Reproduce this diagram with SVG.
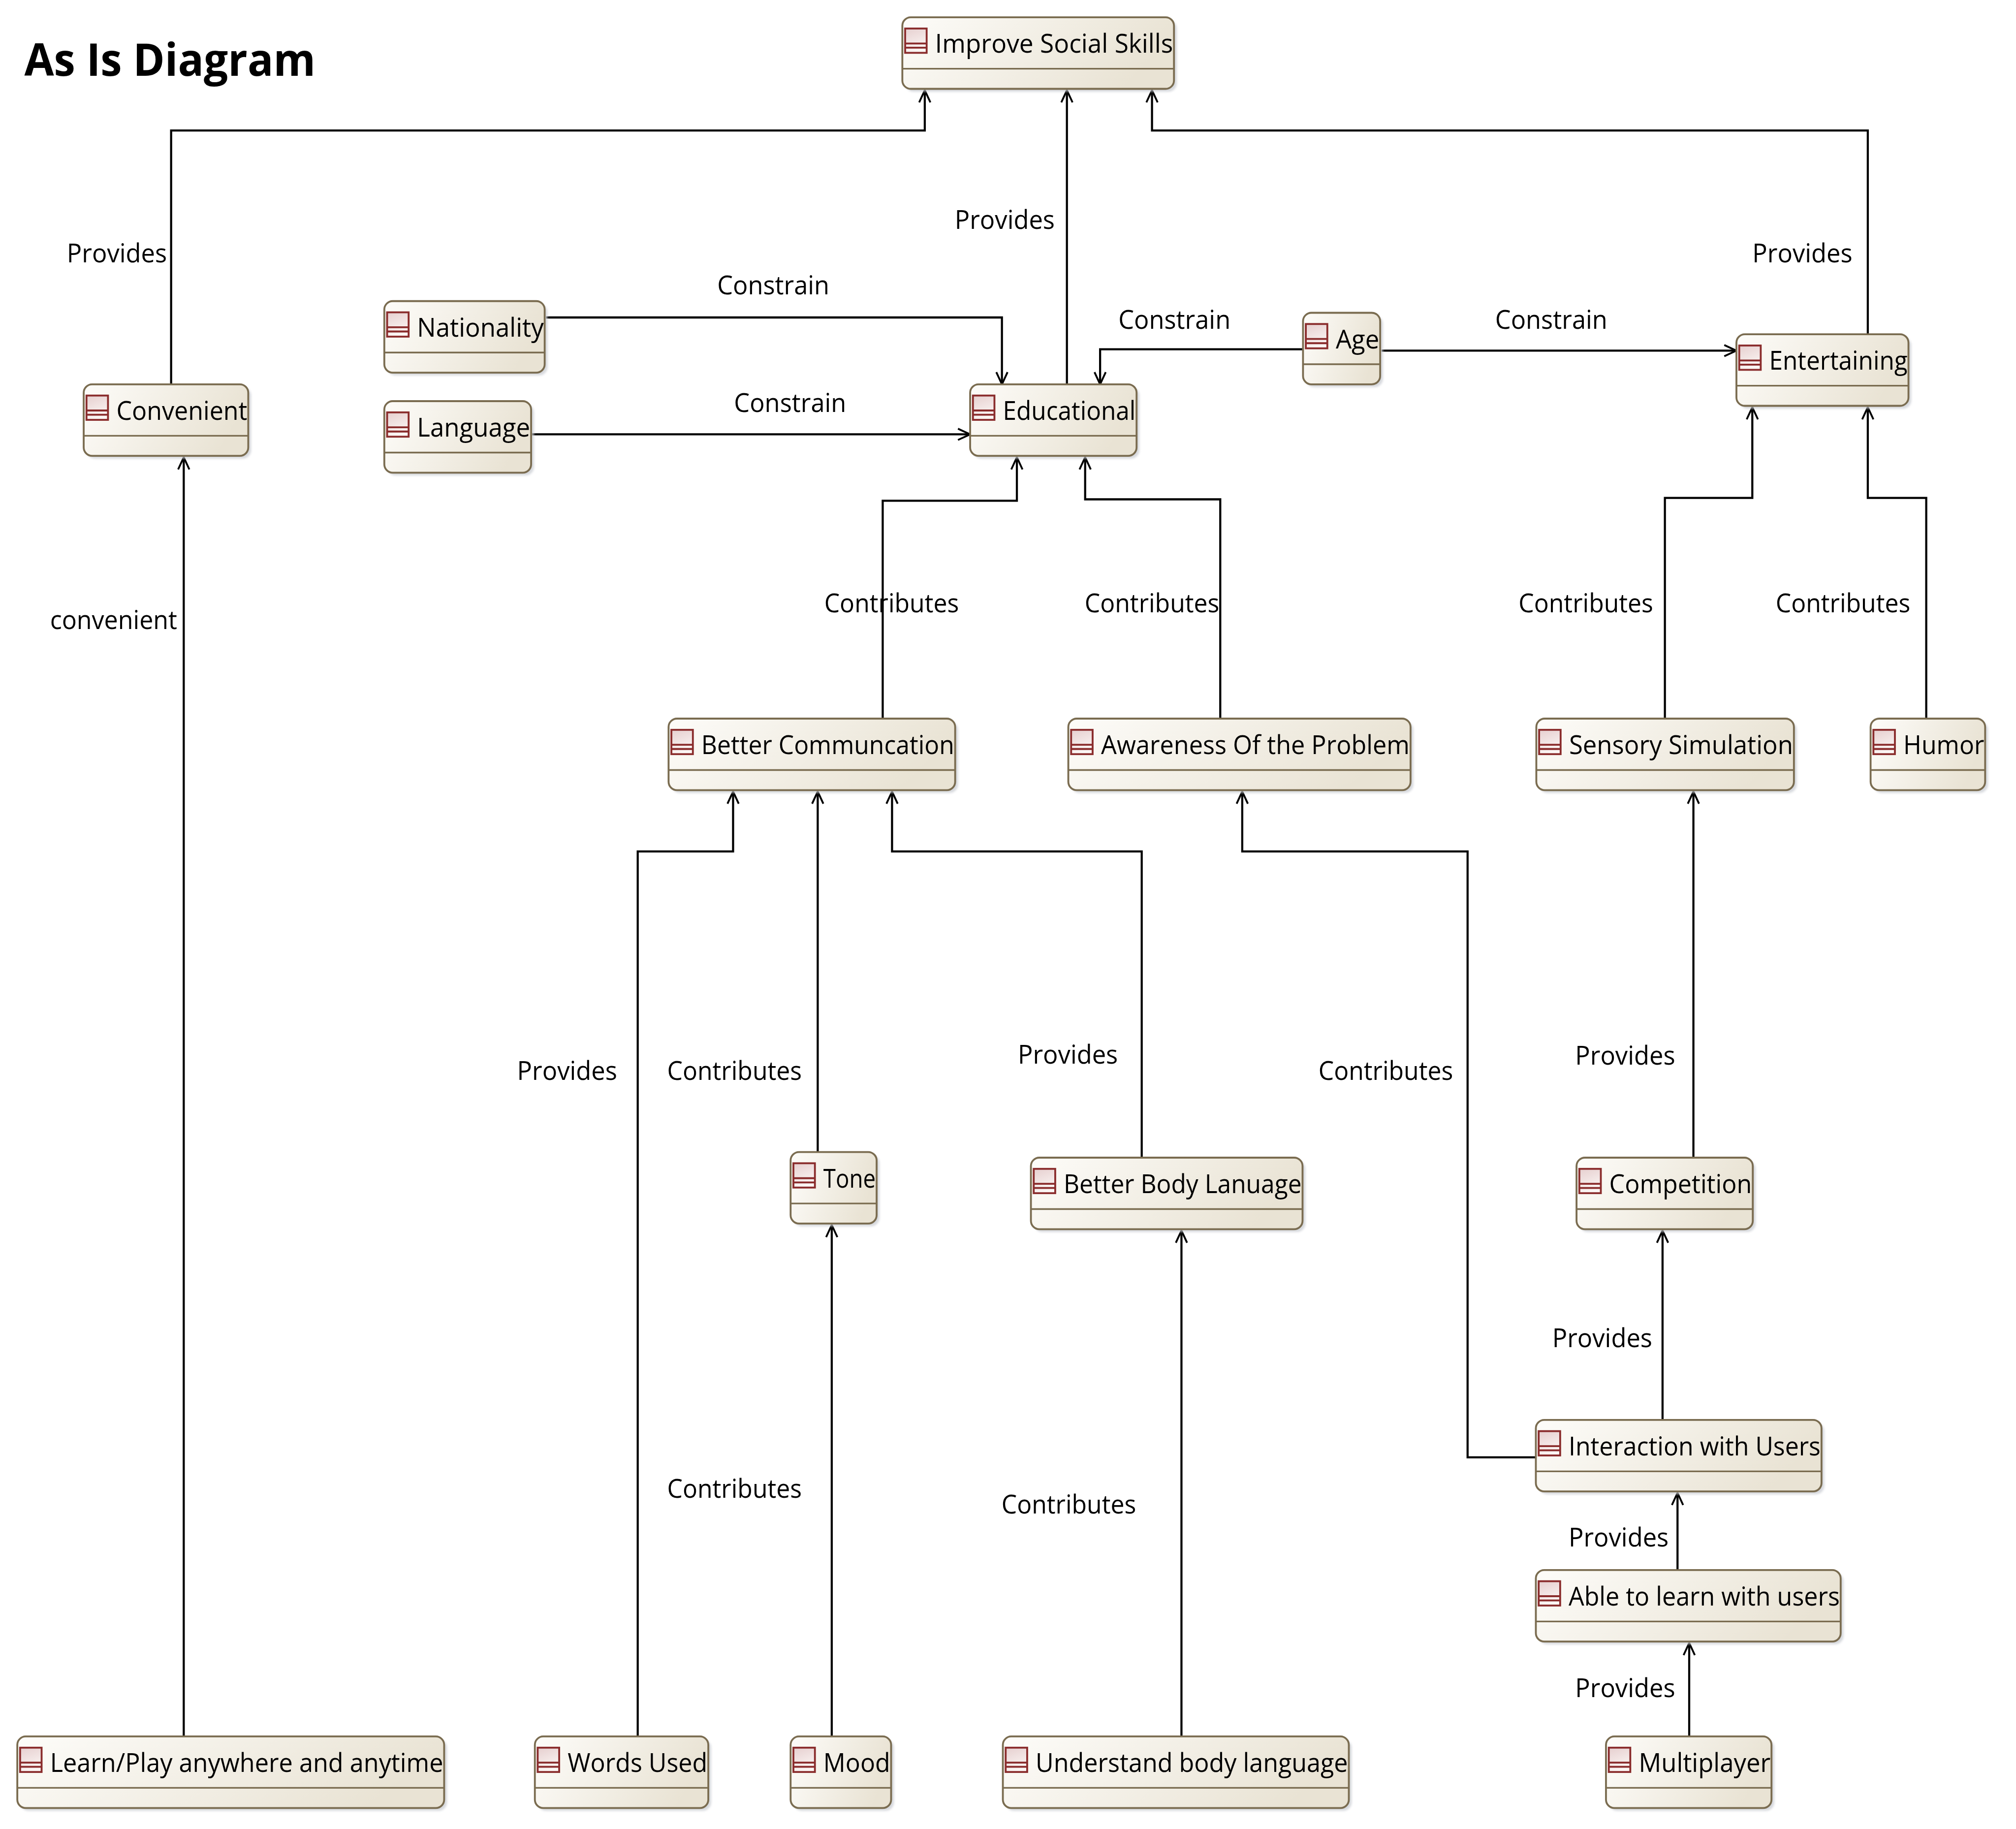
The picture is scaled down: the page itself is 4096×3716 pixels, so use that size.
<svg xmlns="http://www.w3.org/2000/svg" width="4096" height="3716" viewBox="0 0 4096 3716">
<style>
.n{fill:url(#g);stroke:#7a6c50;stroke-width:4}
.s{fill:#c9ccd2;opacity:.75;filter:url(#b)}
.d{stroke:#7a6c50;stroke-width:3.5;fill:none}
.i{fill:url(#p);stroke:#8a2c2c;stroke-width:4}
.il{stroke:#8a2c2c;stroke-width:4;fill:none}
.t{font-family:"Open Sans","Noto Sans",sans-serif;font-size:55px;fill:#000}
.c{fill:none;stroke:#000;stroke-width:4.5;marker-end:url(#a)}
.h{font-family:"Open Sans","Noto Sans",sans-serif;font-size:96px;font-weight:700;fill:#000}
</style>
<defs>
<linearGradient id="g" x1="0" y1="0" x2="1" y2="0.25"><stop offset="0" stop-color="#fdfcf9"/><stop offset="1" stop-color="#e9e3d4"/></linearGradient>
<linearGradient id="p" x1="0" y1="0" x2="0.3" y2="1"><stop offset="0" stop-color="#e6cfcf"/><stop offset="1" stop-color="#fbf6f4"/></linearGradient>
<filter id="b" x="-5%" y="-10%" width="110%" height="120%"><feGaussianBlur stdDeviation="2"/></filter>
<marker id="a" markerUnits="userSpaceOnUse" markerWidth="30" markerHeight="34" viewBox="0 0 30 34" refX="27" refY="17" orient="auto"><path d="M1 5 L27 17 L1 29" fill="none" stroke="#000" stroke-width="4"/></marker>
<g id="ic"><rect class="i" x="0" y="0" width="46" height="52"/><path class="il" d="M0 32H46M0 41H46"/></g>
</defs>
<rect width="4096" height="3716" fill="#fff"/>
<g transform="scale(0.94991)">
<text class="h" x="52" y="162" textLength="623" lengthAdjust="spacingAndGlyphs">As Is Diagram</text>
<g id="connectors">
<path class="c" d="M366 822V279H1978V193"/>
<path class="c" d="M2282 822V193"/>
<path class="c" d="M3995 715V279H2464V193"/>
<path class="c" d="M1168 679H2143V822"/>
<path class="c" d="M1138 929H2075"/>
<path class="c" d="M2787 747H2353V822"/>
<path class="c" d="M2955 750H3714"/>
<path class="c" d="M393 3714V978"/>
<path class="c" d="M1888 1537V1071H2175V978"/>
<path class="c" d="M2610 1537V1068H2321V978"/>
<path class="c" d="M3561 1537V1065H3748V871"/>
<path class="c" d="M4120 1537V1065H3995V871"/>
<path class="c" d="M1364 3714V1821H1568V1693"/>
<path class="c" d="M1749 2464V1693"/>
<path class="c" d="M2442 2476V1821H1908V1693"/>
<path class="c" d="M3285 3117H3139V1821H2657V1693"/>
<path class="c" d="M3622 2476V1693"/>
<path class="c" d="M3556 3037V2632"/>
<path class="c" d="M3588 3358V3193"/>
<path class="c" d="M3613 3714V3514"/>
<path class="c" d="M1779 3714V2620"/>
<path class="c" d="M2527 3714V2632"/>
</g>
<g id="labels">
<text class="t" x="143" y="561" textLength="214" lengthAdjust="spacingAndGlyphs">Provides</text>
<text class="t" x="2042" y="490" textLength="214" lengthAdjust="spacingAndGlyphs">Provides</text>
<text class="t" x="3748" y="561" textLength="214" lengthAdjust="spacingAndGlyphs">Provides</text>
<text class="t" x="1534" y="630" textLength="240" lengthAdjust="spacingAndGlyphs">Constrain</text>
<text class="t" x="1570" y="881" textLength="240" lengthAdjust="spacingAndGlyphs">Constrain</text>
<text class="t" x="2392" y="703" textLength="240" lengthAdjust="spacingAndGlyphs">Constrain</text>
<text class="t" x="3198" y="703" textLength="240" lengthAdjust="spacingAndGlyphs">Constrain</text>
<text class="t" x="107" y="1345" textLength="272" lengthAdjust="spacingAndGlyphs">convenient</text>
<text class="t" x="1763" y="1310" textLength="288" lengthAdjust="spacingAndGlyphs">Contributes</text>
<text class="t" x="2320" y="1310" textLength="288" lengthAdjust="spacingAndGlyphs">Contributes</text>
<text class="t" x="3248" y="1310" textLength="288" lengthAdjust="spacingAndGlyphs">Contributes</text>
<text class="t" x="3798" y="1310" textLength="288" lengthAdjust="spacingAndGlyphs">Contributes</text>
<text class="t" x="1106" y="2310" textLength="214" lengthAdjust="spacingAndGlyphs">Provides</text>
<text class="t" x="1427" y="2310" textLength="288" lengthAdjust="spacingAndGlyphs">Contributes</text>
<text class="t" x="2177" y="2275" textLength="214" lengthAdjust="spacingAndGlyphs">Provides</text>
<text class="t" x="2820" y="2310" textLength="288" lengthAdjust="spacingAndGlyphs">Contributes</text>
<text class="t" x="3369" y="2277" textLength="214" lengthAdjust="spacingAndGlyphs">Provides</text>
<text class="t" x="3320" y="2881" textLength="214" lengthAdjust="spacingAndGlyphs">Provides</text>
<text class="t" x="3355" y="3308" textLength="214" lengthAdjust="spacingAndGlyphs">Provides</text>
<text class="t" x="3369" y="3630" textLength="214" lengthAdjust="spacingAndGlyphs">Provides</text>
<text class="t" x="1427" y="3203" textLength="288" lengthAdjust="spacingAndGlyphs">Contributes</text>
<text class="t" x="2142" y="3237" textLength="288" lengthAdjust="spacingAndGlyphs">Contributes</text>
</g>
<g id="n01"><rect class="s" x="1936" y="43" width="581" height="153" rx="18"/><rect class="n" x="1930" y="37" width="581" height="153" rx="18"/><use href="#ic" x="1936" y="61"/><path class="d" d="M1930 147H2511"/><text class="t" x="2000" y="113" textLength="509" lengthAdjust="spacingAndGlyphs">Improve Social Skills</text></g>
<g id="n02"><rect class="s" x="185" y="828" width="352" height="153" rx="18"/><rect class="n" x="179" y="822" width="352" height="153" rx="18"/><use href="#ic" x="185" y="846"/><path class="d" d="M179 932H531"/><text class="t" x="249" y="898" textLength="280" lengthAdjust="spacingAndGlyphs">Convenient</text></g>
<g id="n03"><rect class="s" x="828" y="650" width="343" height="153" rx="18"/><rect class="n" x="822" y="644" width="343" height="153" rx="18"/><use href="#ic" x="828" y="668"/><path class="d" d="M822 754H1165"/><text class="t" x="892" y="720" textLength="271" lengthAdjust="spacingAndGlyphs">Nationality</text></g>
<g id="n04"><rect class="s" x="828" y="864" width="314" height="153" rx="18"/><rect class="n" x="822" y="858" width="314" height="153" rx="18"/><use href="#ic" x="828" y="882"/><path class="d" d="M822 968H1136"/><text class="t" x="892" y="934" textLength="242" lengthAdjust="spacingAndGlyphs">Language</text></g>
<g id="n05"><rect class="s" x="2081" y="828" width="356" height="153" rx="18"/><rect class="n" x="2075" y="822" width="356" height="153" rx="18"/><use href="#ic" x="2081" y="846"/><path class="d" d="M2075 932H2431"/><text class="t" x="2145" y="898" textLength="284" lengthAdjust="spacingAndGlyphs">Educational</text></g>
<g id="n06"><rect class="s" x="2793" y="675" width="165" height="153" rx="18"/><rect class="n" x="2787" y="669" width="165" height="153" rx="18"/><use href="#ic" x="2793" y="693"/><path class="d" d="M2787 779H2952"/><text class="t" x="2857" y="745" textLength="93" lengthAdjust="spacingAndGlyphs">Age</text></g>
<g id="n07"><rect class="s" x="3720" y="721" width="368" height="153" rx="18"/><rect class="n" x="3714" y="715" width="368" height="153" rx="18"/><use href="#ic" x="3720" y="739"/><path class="d" d="M3714 825H4082"/><text class="t" x="3784" y="791" textLength="296" lengthAdjust="spacingAndGlyphs">Entertaining</text></g>
<g id="n08"><rect class="s" x="1436" y="1543" width="613" height="153" rx="18"/><rect class="n" x="1430" y="1537" width="613" height="153" rx="18"/><use href="#ic" x="1436" y="1561"/><path class="d" d="M1430 1647H2043"/><text class="t" x="1500" y="1613" textLength="541" lengthAdjust="spacingAndGlyphs">Better Communcation</text></g>
<g id="n09"><rect class="s" x="2291" y="1543" width="732" height="153" rx="18"/><rect class="n" x="2285" y="1537" width="732" height="153" rx="18"/><use href="#ic" x="2291" y="1561"/><path class="d" d="M2285 1647H3017"/><text class="t" x="2355" y="1613" textLength="660" lengthAdjust="spacingAndGlyphs">Awareness Of the Problem</text></g>
<g id="n10"><rect class="s" x="3292" y="1543" width="551" height="153" rx="18"/><rect class="n" x="3286" y="1537" width="551" height="153" rx="18"/><use href="#ic" x="3292" y="1561"/><path class="d" d="M3286 1647H3837"/><text class="t" x="3356" y="1613" textLength="479" lengthAdjust="spacingAndGlyphs">Sensory Simulation</text></g>
<g id="n11"><rect class="s" x="4007" y="1543" width="245" height="153" rx="18"/><rect class="n" x="4001" y="1537" width="245" height="153" rx="18"/><use href="#ic" x="4007" y="1561"/><path class="d" d="M4001 1647H4246"/><text class="t" x="4071" y="1613" textLength="173" lengthAdjust="spacingAndGlyphs">Humor</text></g>
<g id="n12"><rect class="s" x="1697" y="2470" width="184" height="153" rx="18"/><rect class="n" x="1691" y="2464" width="184" height="153" rx="18"/><use href="#ic" x="1697" y="2488"/><path class="d" d="M1691 2574H1875"/><text class="t" x="1761" y="2540" textLength="112" lengthAdjust="spacingAndGlyphs">Tone</text></g>
<g id="n13"><rect class="s" x="2211" y="2482" width="581" height="153" rx="18"/><rect class="n" x="2205" y="2476" width="581" height="153" rx="18"/><use href="#ic" x="2211" y="2500"/><path class="d" d="M2205 2586H2786"/><text class="t" x="2275" y="2552" textLength="509" lengthAdjust="spacingAndGlyphs">Better Body Lanuage</text></g>
<g id="n14"><rect class="s" x="3378" y="2482" width="377" height="153" rx="18"/><rect class="n" x="3372" y="2476" width="377" height="153" rx="18"/><use href="#ic" x="3378" y="2500"/><path class="d" d="M3372 2586H3749"/><text class="t" x="3442" y="2552" textLength="305" lengthAdjust="spacingAndGlyphs">Competition</text></g>
<g id="n15"><rect class="s" x="3291" y="3043" width="611" height="153" rx="18"/><rect class="n" x="3285" y="3037" width="611" height="153" rx="18"/><use href="#ic" x="3291" y="3061"/><path class="d" d="M3285 3147H3896"/><text class="t" x="3355" y="3113" textLength="539" lengthAdjust="spacingAndGlyphs">Interaction with Users</text></g>
<g id="n16"><rect class="s" x="3291" y="3364" width="652" height="153" rx="18"/><rect class="n" x="3285" y="3358" width="652" height="153" rx="18"/><use href="#ic" x="3291" y="3382"/><path class="d" d="M3285 3468H3937"/><text class="t" x="3355" y="3434" textLength="580" lengthAdjust="spacingAndGlyphs">Able to learn with users</text></g>
<g id="n17"><rect class="s" x="43" y="3720" width="913" height="153" rx="18"/><rect class="n" x="37" y="3714" width="913" height="153" rx="18"/><use href="#ic" x="43" y="3738"/><path class="d" d="M37 3824H950"/><text class="t" x="107" y="3790" textLength="841" lengthAdjust="spacingAndGlyphs">Learn/Play anywhere and anytime</text></g>
<g id="n18"><rect class="s" x="1150" y="3720" width="371" height="153" rx="18"/><rect class="n" x="1144" y="3714" width="371" height="153" rx="18"/><use href="#ic" x="1150" y="3738"/><path class="d" d="M1144 3824H1515"/><text class="t" x="1214" y="3790" textLength="299" lengthAdjust="spacingAndGlyphs">Words Used</text></g>
<g id="n19"><rect class="s" x="1697" y="3720" width="215" height="153" rx="18"/><rect class="n" x="1691" y="3714" width="215" height="153" rx="18"/><use href="#ic" x="1697" y="3738"/><path class="d" d="M1691 3824H1906"/><text class="t" x="1761" y="3790" textLength="143" lengthAdjust="spacingAndGlyphs">Mood</text></g>
<g id="n20"><rect class="s" x="2151" y="3720" width="740" height="153" rx="18"/><rect class="n" x="2145" y="3714" width="740" height="153" rx="18"/><use href="#ic" x="2151" y="3738"/><path class="d" d="M2145 3824H2885"/><text class="t" x="2215" y="3790" textLength="668" lengthAdjust="spacingAndGlyphs">Understand body language</text></g>
<g id="n21"><rect class="s" x="3441" y="3720" width="354" height="153" rx="18"/><rect class="n" x="3435" y="3714" width="354" height="153" rx="18"/><use href="#ic" x="3441" y="3738"/><path class="d" d="M3435 3824H3789"/><text class="t" x="3505" y="3790" textLength="282" lengthAdjust="spacingAndGlyphs">Multiplayer</text></g>
</g>
</svg>
